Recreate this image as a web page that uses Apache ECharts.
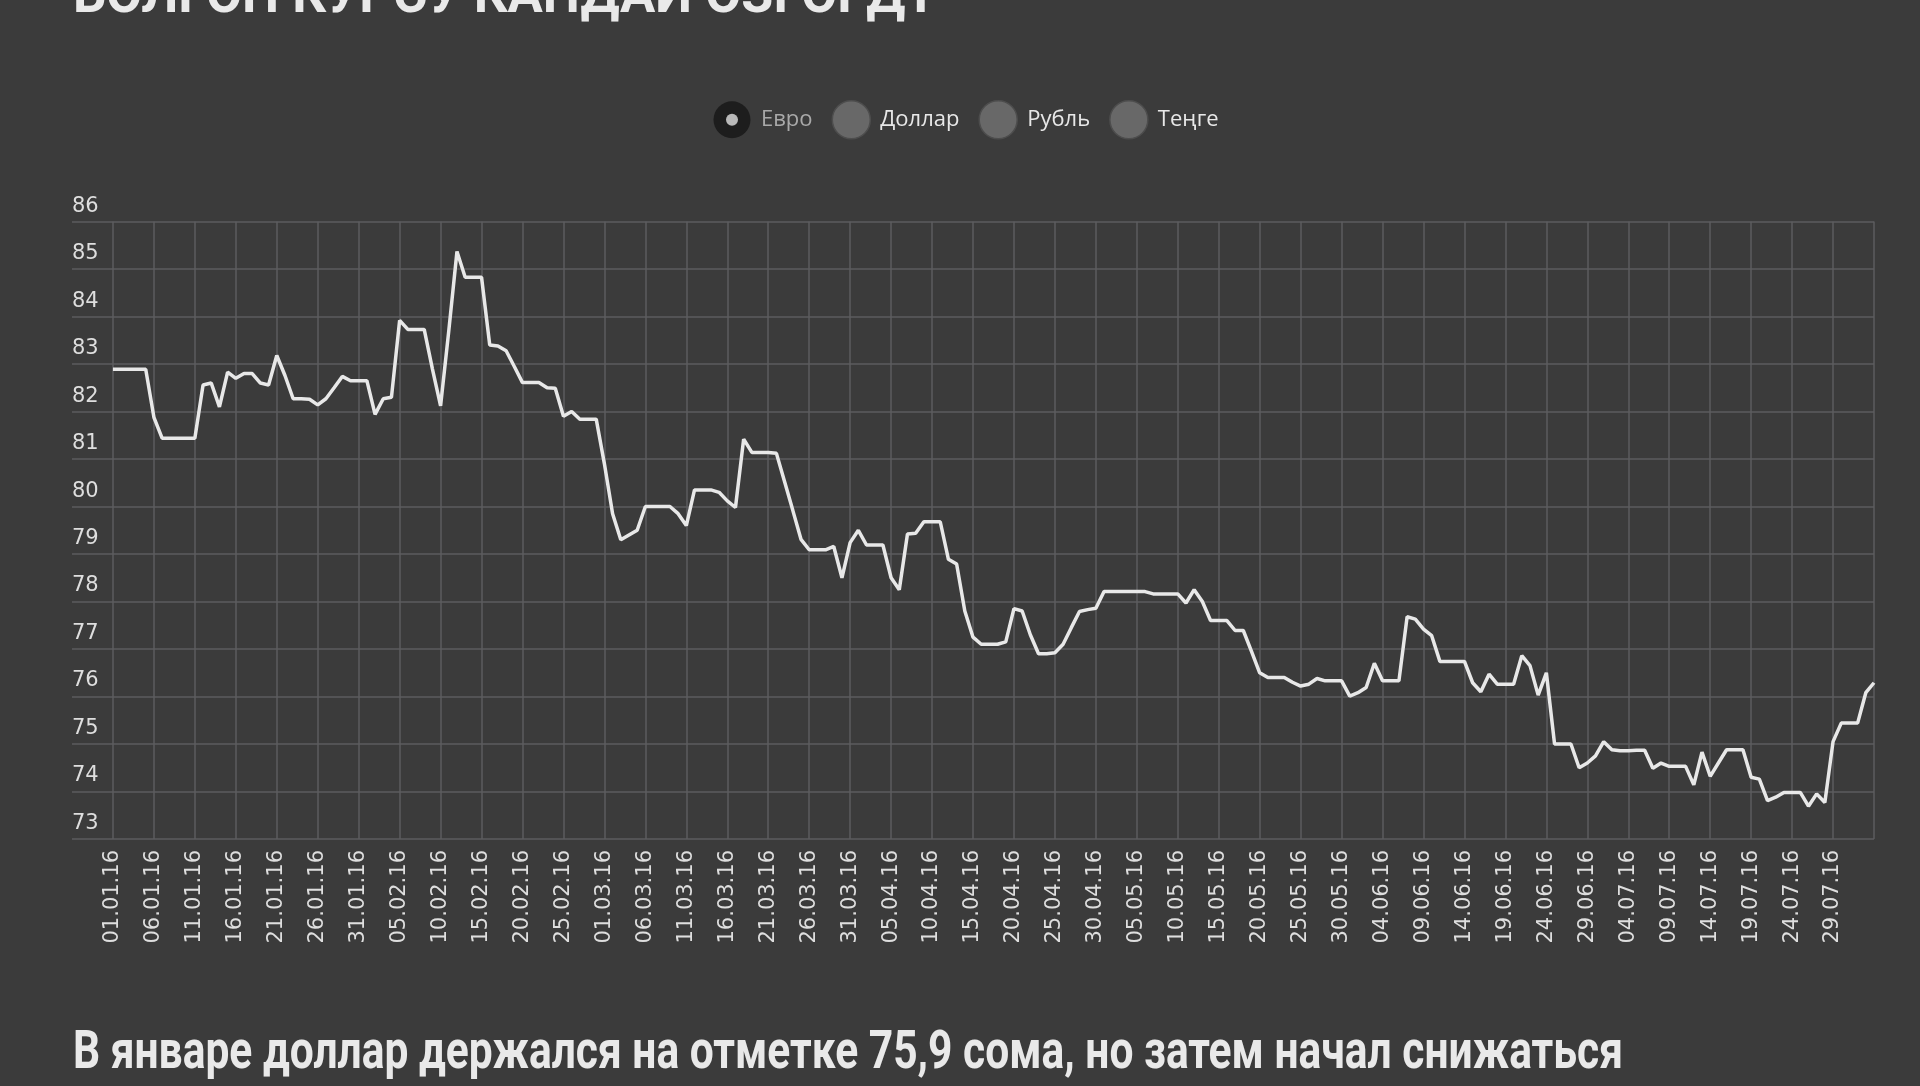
<!DOCTYPE html>
<html>
<head>
<meta charset="utf-8">
<script src="https://cdn.jsdelivr.net/npm/echarts/dist/echarts.min.js"></script>
<style>
html,body{margin:0;padding:0;background:#3b3b3b;}
#chart{width:1920px;height:1086px;}
</style>
</head>
<body>
<div id="chart"></div>
<script>
// ---------- text ----------
const titleText = 'БОЛГОН КУРСУ КАНДАЙ ӨЗГӨРДҮ';
const captionText = 'В январе доллар держался на отметке 75,9 сома, но затем начал снижаться';
const legendNames = ['Евро', 'Доллар', 'Рубль', 'Теңге'];

// ---------- categories: daily dates 27.12.15 .. 03.08.16 ----------
const firstDate = [2015, 11, 27];
const lastDate = [2016, 7, 3];
const categories = [];
(function () {
  const d = new Date(Date.UTC(firstDate[0], firstDate[1], firstDate[2]));
  const end = new Date(Date.UTC(lastDate[0], lastDate[1], lastDate[2]));
  const p = n => (n < 10 ? '0' : '') + n;
  while (d <= end) {
    categories.push(p(d.getUTCDate()) + '.' + p(d.getUTCMonth() + 1) + '.' + String(d.getUTCFullYear()).slice(2));
    d.setUTCDate(d.getUTCDate() + 1);
  }
})();

// ---------- EUR rate, som ----------
const lead = [null, null, null, null, null];            // 27.12 – 31.12.15 (no data)
const jan = [82.89, 82.89, 82.89, 82.89, 82.89, 81.88, 81.44, 81.44, 81.44, 81.44, 81.44,
  82.56, 82.6, 82.1, 82.83, 82.7, 82.8, 82.8, 82.6, 82.56,
  83.18, 82.76, 82.27, 82.27, 82.26, 82.14, 82.27, 82.5, 82.74, 82.65, 82.65];
const feb = [82.65, 81.94, 82.27, 82.3, 83.92, 83.73, 83.73, 83.73, 82.9, 82.12,
  83.7, 85.37, 84.83, 84.83, 84.83, 83.4, 83.38, 83.28, 82.95, 82.61,
  82.61, 82.61, 82.5, 82.49, 81.9, 82.0, 81.84, 81.84, 81.84];
const mar = [80.9, 79.85, 79.3, 79.4, 79.5, 80.0, 80.0, 80.0, 80.0, 79.85,
  79.6, 80.35, 80.35, 80.35, 80.3, 80.12, 79.98, 81.42, 81.14, 81.14,
  81.14, 81.12, 80.52, 79.92, 79.31, 79.09, 79.09, 79.09, 79.16, 78.5, 79.24];
const apr = [79.5, 79.19, 79.19, 79.19, 78.5, 78.25, 79.42, 79.44, 79.68,
  79.68, 79.68, 78.89, 78.79, 77.8, 77.25, 77.1, 77.1, 77.1, 77.15,
  77.85, 77.8, 77.3, 76.9, 76.9, 76.92, 77.1, 77.45, 77.79, 77.83, 77.86];
const may = [78.21, 78.21, 78.21, 78.21, 78.21, 78.21, 78.16, 78.16, 78.16, 78.16,
  77.97, 78.25, 78.0, 77.6, 77.6, 77.6, 77.39, 77.39, 76.95,
  76.5, 76.4, 76.4, 76.4, 76.3, 76.22, 76.26, 76.38, 76.33, 76.33, 76.33, 76.01];
const jun = [76.08, 76.19, 76.7, 76.33, 76.33, 76.33, 77.68, 77.63,
  77.42, 77.28, 76.74, 76.74, 76.74, 76.74, 76.29, 76.1, 76.47, 76.26,
  76.26, 76.26, 76.86, 76.65, 76.03, 76.5, 75.0, 75.0, 75.0, 74.5, 74.6, 74.75];
const jul = [75.05, 74.88, 74.86, 74.86, 74.87, 74.87, 74.49, 74.6,
  74.53, 74.53, 74.53, 74.14, 74.83, 74.32, 74.6, 74.88, 74.88, 74.88,
  74.3, 74.26, 73.81, 73.88, 73.98, 73.98, 73.98, 73.69, 73.95, 73.77,
  75.05, 75.44, 75.44];
const aug = [75.44, 76.08, 76.29];
const euroValues = [].concat(lead, jan, feb, mar, apr, may, jun, jul, aug);

// ---------- y axis ----------
const yMin = 73, yMax = 86, yStep = 1;

// ---------- styles ----------
const BG = '#3b3b3b';
const GRID = '#5c5c5f';
const LABEL = '#dedede';

// width fitting for condensed headline text
function fitScale(text, font, target) {
  const c = document.createElement('canvas').getContext('2d');
  c.font = font;
  return target / c.measureText(text).width;
}
const headFont = 'bold 54px Roboto';
const titleScale = fitScale(titleText, headFont, 864);
const captionScale = fitScale(captionText, headFont, 1550);

const euroIconSvg = '<svg xmlns="http://www.w3.org/2000/svg" width="38" height="38">' +
  '<circle cx="19" cy="19" r="18.5" fill="#1d1d1d"/><circle cx="19" cy="19" r="6" fill="#b9b9b9"/></svg>';
const euroIcon = 'image://data:image/svg+xml;charset=utf-8,' + encodeURIComponent(euroIconSvg);
const grayDot = { color: '#686868', borderColor: '#4d4d4d', borderWidth: 1.5 };

const lastIdx = categories.length - 1;

const chart = echarts.init(document.getElementById('chart'), null, { renderer: 'canvas' });
chart.setOption({
  backgroundColor: BG,
  animation: false,
  textStyle: { fontFamily: 'DejaVu Sans' },
  graphic: [
    {
      type: 'text', x: 73, y: -2, scaleX: titleScale, originX: 0,
      style: { text: titleText, font: headFont, fill: '#e9e9e9', verticalAlign: 'middle' }
    },
    {
      type: 'text', x: 73, y: 1054, scaleX: captionScale, originX: 0,
      style: { text: captionText, font: headFont, fill: '#e9e9e9', verticalAlign: 'middle' }
    }
  ],
  legend: {
    top: 95,
    left: 708,
    itemWidth: 38,
    itemHeight: 38,
    itemGap: 19,
    selectedMode: false,
    textStyle: { fontFamily: 'Open Sans', fontSize: 22, color: '#e8e8e8', padding: [0, 0, 0, 5] },
    data: [
      { name: legendNames[0], icon: euroIcon, textStyle: { color: '#a9a9a9' } },
      { name: legendNames[1], icon: 'circle', itemStyle: grayDot },
      { name: legendNames[2], icon: 'circle', itemStyle: grayDot },
      { name: legendNames[3], icon: 'circle', itemStyle: grayDot }
    ]
  },
  grid: { left: 72, right: 46, top: 221.6, bottom: 247, containLabel: false },
  xAxis: {
    type: 'category',
    data: categories,
    boundaryGap: false,
    axisLine: { show: false },
    axisTick: { show: false },
    axisLabel: {
      rotate: 90,
      interval: function (i) { return i % 5 === 0 && i !== 0 && i !== lastIdx; },
      margin: 11,
      color: LABEL,
      fontSize: 21,
      fontFamily: 'DejaVu Sans'
    },
    splitLine: { show: true, interval: 4, showMinLine: false, lineStyle: { color: GRID, width: 1.5 } }
  },
  yAxis: {
    type: 'value',
    min: yMin, max: yMax, interval: yStep,
    axisLine: { show: false },
    axisTick: { show: false },
    axisLabel: {
      inside: true,
      margin: 0,
      align: 'left',
      verticalAlign: 'bottom',
      padding: [0, 0, 5, 0],
      color: LABEL,
      fontSize: 21,
      fontFamily: 'DejaVu Sans'
    },
    splitLine: { show: true, lineStyle: { color: GRID, width: 1.5 } }
  },
  series: [
    {
      name: legendNames[0], type: 'line', data: euroValues, symbol: 'none',
      lineStyle: { color: '#e8e8e8', width: 3.5 }, itemStyle: { color: '#e8e8e8' }, connectNulls: false, z: 5
    },
    { name: legendNames[1], type: 'line', data: [], symbol: 'none' },
    { name: legendNames[2], type: 'line', data: [], symbol: 'none' },
    { name: legendNames[3], type: 'line', data: [], symbol: 'none' }
  ]
});
</script>
</body>
</html>
